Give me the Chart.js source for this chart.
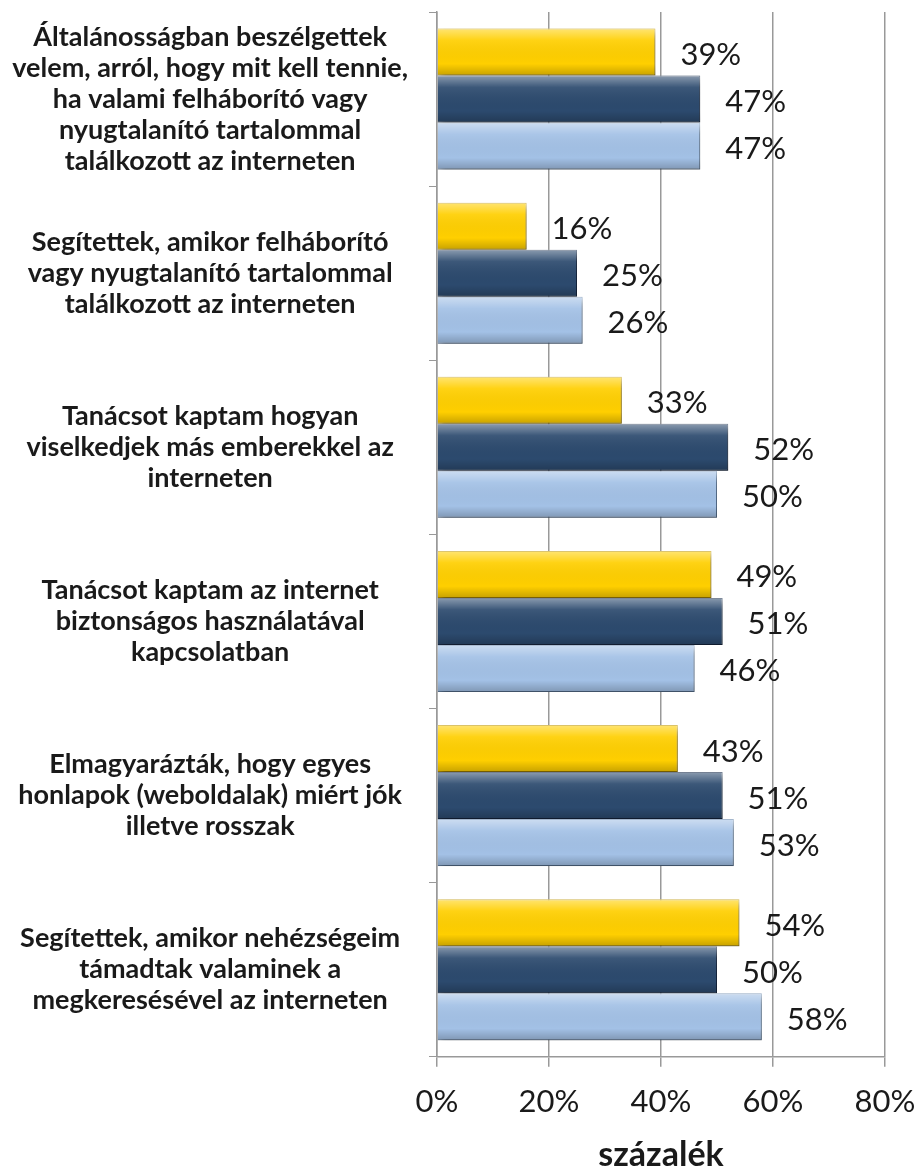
<!DOCTYPE html>
<html>
<head>
<meta charset="utf-8">
<script src="https://cdn.jsdelivr.net/npm/chart.js@4"></script>
<style>
  html, body { margin: 0; padding: 0; background: #fff; }
  #wrap { width: 918px; height: 1172px; }
</style>
</head>
<body>
<div id="wrap"><canvas id="tamogatasChart" width="918" height="1172"></canvas></div>
<script>
var categories = [
    ["Általánosságban beszélgettek", "velem, arról, hogy mit kell tennie,", "ha valami felháborító vagy", "nyugtalanító tartalommal", "találkozott az interneten"],
    ["Segítettek, amikor felháborító", "vagy nyugtalanító tartalommal", "találkozott az interneten"],
    ["Tanácsot kaptam hogyan", "viselkedjek más emberekkel az", "interneten"],
    ["Tanácsot kaptam az internet", "biztonságos használatával", "kapcsolatban"],
    ["Elmagyarázták, hogy egyes", "honlapok (weboldalak) miért jók", "illetve rosszak"],
    ["Segítettek, amikor nehézségeim", "támadtak valaminek a", "megkeresésével az interneten"]
];
var sárga = [39, 16, 33, 49, 43, 54];
var sötétkék = [47, 25, 52, 51, 51, 50];
var világoskék = [47, 26, 50, 46, 53, 58];
var xTicks = [0, 20, 40, 60, 80];

// bar shadow + bevel look
var barLook = {
    id: 'barLook',
    beforeDatasetsDraw: function(chart) {
        var c = chart.ctx;
        c.save();
        c.shadowColor = 'rgba(0,0,0,0.35)';
        c.shadowBlur = 6;
        c.shadowOffsetX = 3;
        c.shadowOffsetY = 3;
    },
    afterDatasetsDraw: function(chart) {
        var c = chart.ctx;
        c.restore();
        chart.data.datasets.forEach(function(ds, i) {
            chart.getDatasetMeta(i).data.forEach(function(bar) {
                var top = bar.y - bar.height / 2, h = bar.height;
                var g = c.createLinearGradient(0, top, 0, top + h);
                g.addColorStop(0, 'rgba(255,255,255,0.45)');
                g.addColorStop(0.25, 'rgba(255,255,255,0.08)');
                g.addColorStop(0.75, 'rgba(0,0,0,0)');
                g.addColorStop(1, 'rgba(0,0,0,0.22)');
                c.fillStyle = g;
                c.fillRect(bar.base, top, bar.x - bar.base, h);
            });
        });
    }
};

var valueLabels = {
    id: 'valueLabels',
    afterDatasetsDraw: function(chart) {
        var c = chart.ctx;
        c.save();
        c.font = '31px Lato, sans-serif';
        c.fillStyle = '#1a1a1a';
        c.textAlign = 'left';
        c.textBaseline = 'middle';
        chart.data.datasets.forEach(function(ds, i) {
            chart.getDatasetMeta(i).data.forEach(function(bar, j) {
                c.fillText(ds.data[j] + '%', bar.x + 25, bar.y + 3);
            });
        });
        c.restore();
    }
};

var ctx = document.getElementById('tamogatasChart').getContext('2d');
var chart = new Chart(ctx, {
    type: 'bar',
    data: {
        labels: categories,
        datasets: [
            { data: sárga, backgroundColor: '#FFCF00', borderColor: '#C9A000', borderWidth: 1 },
            { data: sötétkék, backgroundColor: '#2C4A6E', borderColor: '#1B3050', borderWidth: 1 },
            { data: világoskék, backgroundColor: '#A3C1E6', borderColor: '#6F8FB5', borderWidth: 1 }
        ]
    },
    options: {
        indexAxis: 'y',
        responsive: false,
        animation: false,
        layout: { padding: { top: 12, right: 33, bottom: 0, left: 0 } },
        datasets: { bar: { categoryPercentage: 0.81, barPercentage: 1 } },
        plugins: {
            legend: { display: false },
            tooltip: { enabled: false }
        },
        scales: {
            x: {
                min: 0,
                max: 80,
                afterBuildTicks: function(axis) {
                    axis.ticks = xTicks.map(function(v) { return { value: v }; });
                },
                afterFit: function(axis) { axis.paddingLeft = 0; axis.paddingRight = 0; },
                grid: { color: '#999999', lineWidth: 1.5, tickLength: 10 },
                border: { color: '#999999', width: 1.5 },
                ticks: {
                    font: { family: 'Lato', size: 31 },
                    color: '#1a1a1a',
                    padding: 17,
                    callback: function(v) { return v + '%'; }
                },
                title: {
                    display: true,
                    text: 'százalék',
                    font: { family: 'Lato', size: 34, weight: 'bold', lineHeight: 1.0 },
                    color: '#1a1a1a',
                    padding: { top: 0, bottom: 0 }
                }
            },
            y: {
                afterFit: function(axis) { axis.width = 437; axis.paddingTop = 0; axis.paddingBottom = 0; },
                grid: { offset: true, drawOnChartArea: false, color: '#999999', tickLength: 8 },
                border: { color: '#999999', width: 1.5 },
                ticks: {
                    crossAlign: 'center',
                    font: { family: 'Lato', size: 27, weight: 'bold', lineHeight: 1.15 },
                    color: '#1a1a1a',
                    padding: 21
                }
            }
        }
    },
    plugins: [barLook, valueLabels]
});
</script>
</body>
</html>
